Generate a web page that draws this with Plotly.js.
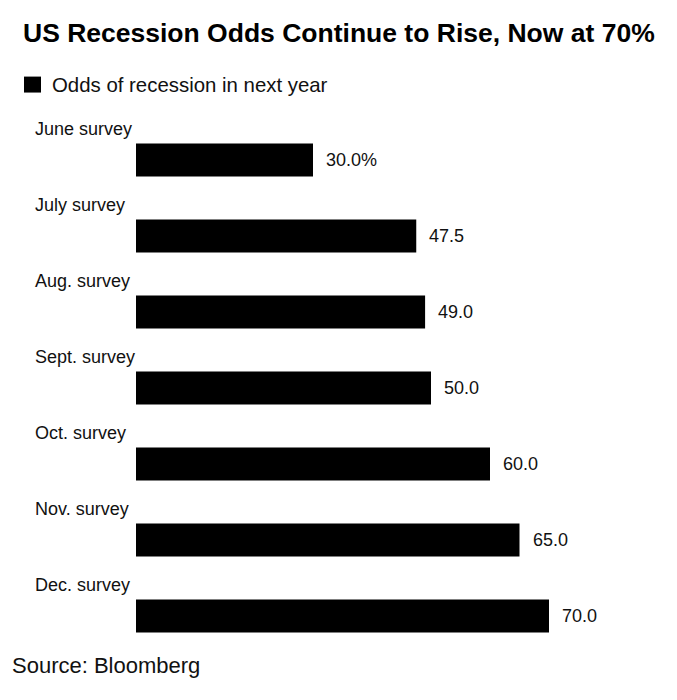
<!DOCTYPE html>
<html>
<head>
<meta charset="utf-8">
<script src="https://cdn.plot.ly/plotly-3.0.1.min.js"></script>
<style>
html,body{margin:0;padding:0;background:#fff;}
#chart{width:677px;height:700px;}
</style>
</head>
<body>
<div id="chart"></div>
<script>
const categories = ["June survey","July survey","Aug. survey","Sept. survey","Oct. survey","Nov. survey","Dec. survey"];
const odds = [30.0, 47.5, 49.0, 50.0, 60.0, 65.0, 70.0];
const valueLabels = ["30.0%","47.5","49.0","50.0","60.0","65.0","70.0"];
const seriesName = "Odds of recession in next year";

const FONT = "Liberation Sans, Arial, sans-serif";
const plotLeft = 136, plotWidth = 531;

const annotations = [];
categories.forEach((c, i) => {
  annotations.push({
    xref: 'paper', yref: 'y', x: -(plotLeft - 33) / plotWidth, y: c,
    xanchor: 'left', yanchor: 'middle', yshift: 31,
    text: c, showarrow: false,
    font: {family: FONT, size: 18, color: '#111'}
  });
  annotations.push({
    xref: 'x', yref: 'y', x: odds[i], y: c,
    xanchor: 'left', yanchor: 'middle', xshift: 11,
    text: valueLabels[i], showarrow: false,
    font: {family: FONT, size: 18, color: '#111'}
  });
});
annotations.push({
  xref: 'paper', yref: 'paper', x: -(plotLeft - 50) / plotWidth, y: 1 + (121.5 - 84) / 533,
  xanchor: 'left', yanchor: 'middle', text: seriesName, showarrow: false,
  font: {family: FONT, size: 20.4, color: '#111'}
});
annotations.push({
  xref: 'paper', yref: 'paper', x: -(plotLeft - 10) / plotWidth, y: -(666 - 654.5) / 533,
  xanchor: 'left', yanchor: 'middle', text: 'Source: Bloomberg', showarrow: false,
  font: {family: FONT, size: 22, color: '#111'}
});

const data = [{
  type: 'bar', orientation: 'h',
  y: categories, x: odds, name: seriesName,
  marker: {color: '#000'}, width: 0.434,
  hoverinfo: 'skip'
}];

const layout = {
  width: 677, height: 700,
  margin: {l: plotLeft, r: 677 - plotLeft - plotWidth, t: 121.5, b: 45.5, pad: 0},
  paper_bgcolor: '#fff', plot_bgcolor: '#fff',
  showlegend: false,
  title: {
    text: '<b>US Recession Odds Continue to Rise, Now at 70%</b>',
    x: 23 / 677, xanchor: 'left', xref: 'container',
    y: 1 - 33 / 700, yanchor: 'middle', yref: 'container',
    font: {family: FONT, size: 26.5, color: '#000'}
  },
  xaxis: {range: [0, 90], visible: false, fixedrange: true},
  yaxis: {type: 'category', range: [6.5, -0.5], visible: false, fixedrange: true},
  shapes: [{
    type: 'rect', xref: 'paper', yref: 'paper',
    x0: -(plotLeft - 24) / plotWidth, x1: -(plotLeft - 41) / plotWidth,
    y0: 1 + (121.5 - 92) / 533, y1: 1 + (121.5 - 76) / 533,
    fillcolor: '#000', line: {width: 0}
  }],
  annotations: annotations
};

Plotly.newPlot('chart', data, layout, {displayModeBar: false, staticPlot: true});
</script>
</body>
</html>
